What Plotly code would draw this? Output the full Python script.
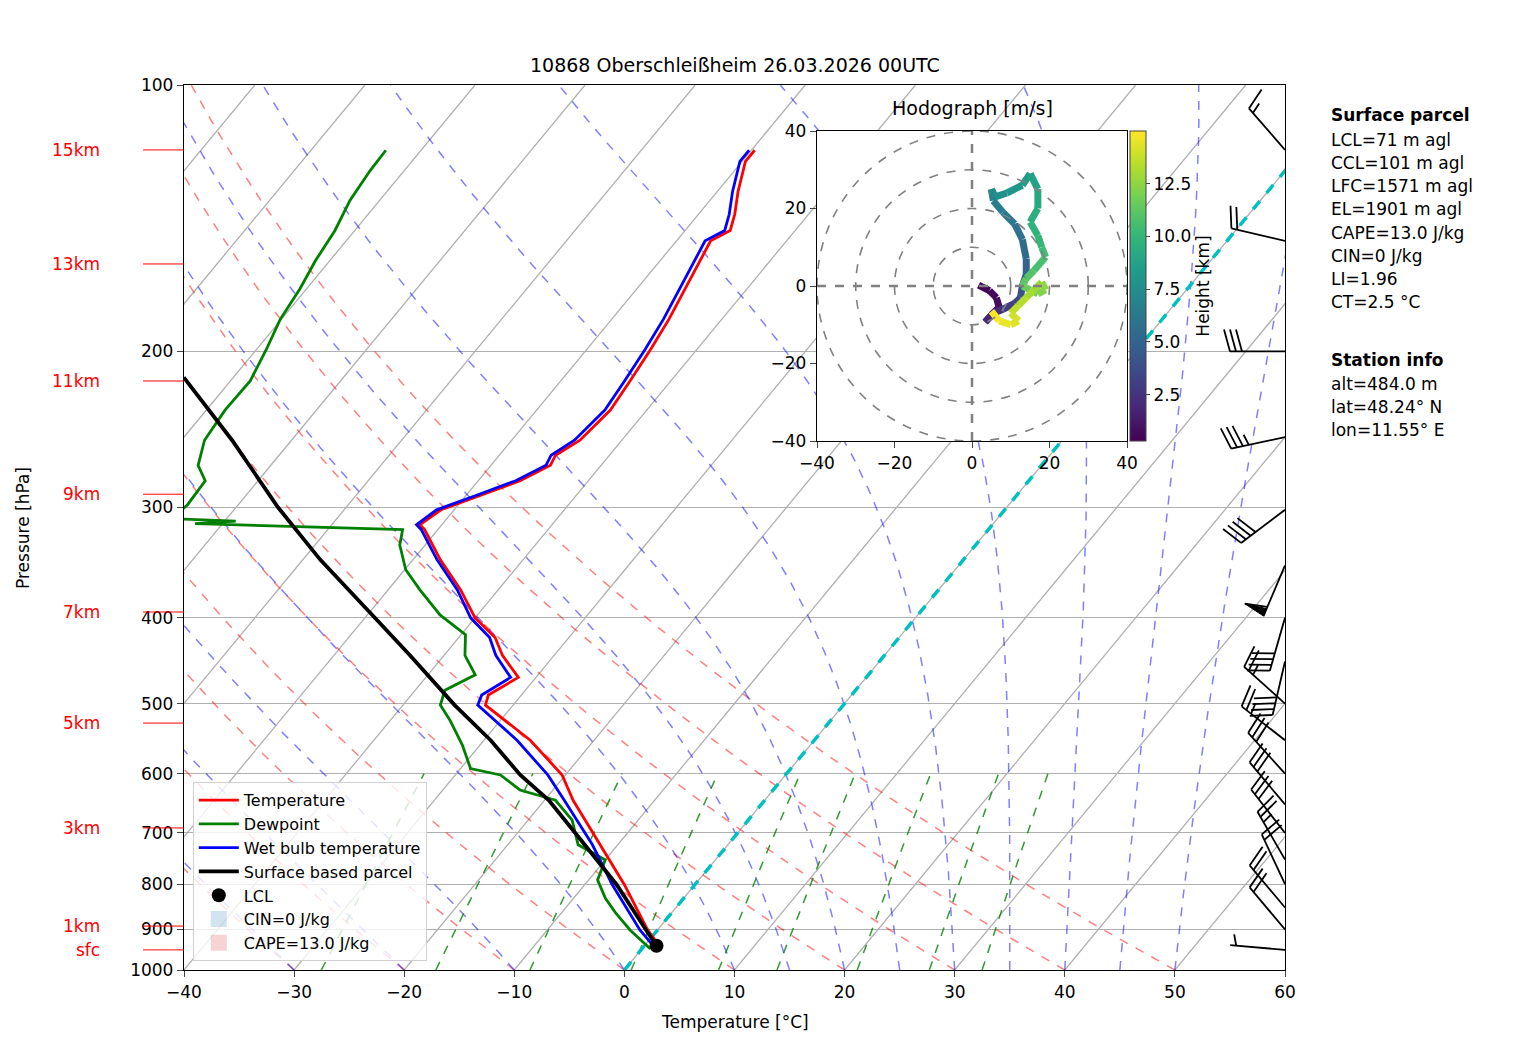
import numpy as np
import plotly.graph_objects as go
import plotly.colors as pc

# ---------------- data ----------------
P_T = [947, 901, 801, 722, 643, 602, 550, 502, 489, 467, 441, 421, 400, 372, 344, 318, 314, 302, 291, 280,
       269, 262, 252, 233, 216, 199, 184, 170, 158, 150, 146, 140, 132, 122, 118.5]
TEMP = [1.8, -0.9, -6.4, -11.6, -17.4, -20.3, -25.8, -32.5, -33.0, -31.6, -34.7, -36.7, -40.0, -43.4, -47.5,
        -51.2, -52.0, -51.2, -48.7, -46.2, -44.6, -44.9, -43.8, -43.3, -43.7, -44.2, -44.8, -45.6, -46.3, -46.9,
        -45.9, -46.7, -48.1, -49.7, -49.7]
WETB = [1.3, -1.6, -7.5, -12.3, -18.2, -21.6, -27.0, -33.2, -33.6, -32.3, -35.3, -37.2, -40.4, -43.7, -47.8,
        -51.5, -52.3, -51.6, -49.1, -46.6, -45.0, -45.3, -44.3, -43.8, -44.2, -44.7, -45.3, -46.1, -46.8, -47.4,
        -46.4, -47.2, -48.6, -50.2, -50.2]
P_D = [947, 901, 860, 830, 791, 751, 722, 677, 643, 626, 602, 592, 557, 522, 502, 483, 464, 441, 418, 397,
       372, 353, 331, 318, 313, 311, 309, 298, 280, 269, 252, 233, 216, 199, 184, 170, 158, 146, 135, 125, 118.5]
DEWP = [0.8, -2.5, -5.2, -7.1, -9.2, -10.0, -13.6, -16.0, -19.0, -23.0, -25.9, -29.1, -31.6, -34.6, -36.6,
        -37.3, -35.7, -38.1, -39.6, -43.4, -47.1, -49.9, -52.3, -53.2, -72.5, -69.0, -75.0, -74.6, -74.8, -76.6,
        -77.9, -78.3, -78.2, -79.1, -80.1, -80.6, -81.3, -81.8, -82.7, -83.1, -83.2]
P_PARCEL = [947, 939, 900, 801, 722, 643, 602, 550, 502, 441, 400, 344, 300, 252, 214]
T_PARCEL = [1.8, 1.1, -1.1, -7.1, -13.0, -19.6, -24.1, -29.4, -35.3, -43.1, -49.1, -58.4, -66.2, -75.4, -84.5]
LCL_P, LCL_T = 939, 1.1

HEIGHT_LABELS = ["15km", "13km", "11km", "9km", "7km", "5km", "3km", "1km", "sfc"]
HEIGHT_P = [118.4, 159.3, 216, 290, 394, 526, 691, 892, 949]

BARB_P = [118.4, 150, 200, 250, 302, 349, 400, 448, 500, 550, 600, 650, 700, 750, 800, 850, 900, 949]
BARB_DIR = [319, 283, 270, 258, 233, 203, 196, 193, 312, 308, 318, 320, 322, 330, 335, 320, 320, 275]
BARB_SPD = [15, 20, 30, 35, 40, 60, 40, 40, 25, 25, 30, 30, 30, 25, 20, 20, 20, 5]

HODO_U = [1.7, 4.5, 6.3, 7.0, 5.0, 3.4, 5.5, 8.0, 11.0, 12.5, 13.0, 14.0, 14.0, 13.0, 11.0, 8.0, 5.5, 5.0, 6.0,
          9.0, 13.0, 15.0, 17.0, 17.0, 15.0, 17.0, 18.0, 19.0, 16.0, 14.0, 13.0, 15.0, 17.0, 19.0, 18.0, 16.0,
          14.0, 12.0, 10.0, 12.0, 10.0, 7.0, 5.0]
HODO_V = [0.2, -1.2, -3.0, -5.5, -7.5, -9.3, -7.0, -6.0, -4.5, -3.0, 0.0, 3.0, 7.0, 12.0, 16.0, 19.0, 22.0, 25.0,
          23.0, 24.0, 26.0, 29.0, 25.0, 20.0, 16.5, 13.0, 10.0, 7.5, 4.0, 2.0, 0.0, -1.0, -2.0, -1.0, 1.0, -1.0,
          -3.0, -5.0, -7.0, -9.0, -10.0, -9.0, -6.5]
HODO_Z = [0.3, 0.5, 0.7, 0.9, 1.2, 1.6, 2.0, 2.6, 3.2, 3.8, 4.3, 4.8, 5.2, 5.6, 6.0, 6.4, 6.8, 7.1, 7.4, 7.8, 8.2,
          8.6, 9.0, 9.3, 9.6, 9.9, 10.2, 10.5, 10.8, 11.1, 11.4, 11.7, 12.0, 12.3, 12.6, 12.9, 13.2, 13.5, 13.8,
          14.1, 14.4, 14.7, 15.0]

INFO_LINES = [("<b>Surface parcel</b>", 115), ("LCL=71 m agl", 140), ("CCL=101 m agl", 163),
              ("LFC=1571 m agl", 186), ("EL=1901 m agl", 209), ("CAPE=13.0 J/kg", 233), ("CIN=0 J/kg", 256),
              ("LI=1.96", 279), ("CT=2.5 °C", 302), ("<b>Station info</b>", 360), ("alt=484.0 m", 384),
              ("lat=48.24° N", 407), ("lon=11.55° E", 430)]

# ---------------- geometry ----------------
K = 28.85
W, H = 1517, 1056
OFF = 8  # page body margin
L, R, T, B = 184, 1285, 85, 970
PW, PH = R - L, B - T


def skx(t, p):
    return np.asarray(t, float) + K * np.log(1000.0 / np.asarray(p, float))


FONT = "DejaVu Sans"
fig = go.Figure()
pp = np.linspace(1000, 100, 181)

for t0 in range(-120, 61, 10):
    fig.add_trace(go.Scatter(x=skx(np.full_like(pp, t0), pp), y=pp, mode="lines",
                             line=dict(color="#b0b0b0", width=1.3), showlegend=False, hoverinfo="skip"))
for th in range(-30, 51, 10):
    tk = (th + 273.15) * (pp / 1000.0) ** 0.2857 - 273.15
    fig.add_trace(go.Scatter(x=skx(tk, pp), y=pp, mode="lines",
                             line=dict(color="rgba(255,0,0,0.5)", width=1.5, dash="dash"),
                             showlegend=False, hoverinfo="skip"))


def moist(t0c):
    Rd, Cp, Lv, eps = 287.04, 1005.7, 2.501e6, 0.622

    def f(p, Tk):
        es = 6.112 * np.exp(17.67 * (Tk - 273.15) / (Tk - 29.65))
        rs = eps * es / (p - es)
        return (Rd * Tk + Lv * rs) / (Cp + Lv * Lv * rs * eps / (Rd * Tk * Tk)) / p

    ps = np.arange(1000, 99, -5.0)
    Ts = [t0c + 273.15]
    for i in range(len(ps) - 1):
        dp = ps[i + 1] - ps[i]
        k1 = f(ps[i], Ts[-1])
        k2 = f(ps[i] + dp, Ts[-1] + dp * k1)
        Ts.append(Ts[-1] + dp * 0.5 * (k1 + k2))
    return ps, np.array(Ts) - 273.15


for t0 in [-50, -40, -30, -20, -10, 0, 10, 15, 20, 25, 30, 35, 40, 45, 50]:
    ps, ts = moist(t0)
    fig.add_trace(go.Scatter(x=skx(ts, ps), y=ps, mode="lines",
                             line=dict(color="rgba(0,0,255,0.5)", width=1.5, dash="dash"),
                             showlegend=False, hoverinfo="skip"))
pm = np.linspace(1000, 600, 41)
for w in [0.0004, 0.001, 0.002, 0.004, 0.007, 0.01, 0.016, 0.024, 0.032]:
    e = pm * w / (0.622 + w)
    a = np.log(e / 6.112)
    td = 243.5 * a / (17.67 - a)
    fig.add_trace(go.Scatter(x=skx(td, pm), y=pm, mode="lines",
                             line=dict(color="rgba(0,128,0,0.8)", width=1.5, dash="dash"),
                             showlegend=False, hoverinfo="skip"))
fig.add_trace(go.Scatter(x=skx(np.zeros_like(pp), pp), y=pp, mode="lines",
                         line=dict(color="#00bfbf", width=3.5, dash="dash"), showlegend=False, hoverinfo="skip"))

fig.add_trace(go.Scatter(x=skx(TEMP, P_T), y=P_T, mode="lines", name="Temperature",
                         line=dict(color="red", width=2.8)))
fig.add_trace(go.Scatter(x=skx(DEWP, P_D), y=P_D, mode="lines", name="Dewpoint",
                         line=dict(color="green", width=2.8)))
fig.add_trace(go.Scatter(x=skx(WETB, P_T), y=P_T, mode="lines", name="Wet bulb temperature",
                         line=dict(color="blue", width=2.8)))
fig.add_trace(go.Scatter(x=skx(T_PARCEL, P_PARCEL), y=P_PARCEL, mode="lines", name="Surface based parcel",
                         line=dict(color="black", width=3.8)))
fig.add_trace(go.Scatter(x=skx([LCL_T], [LCL_P]), y=[LCL_P], mode="markers", name="LCL",
                         marker=dict(color="black", size=14)))
fig.add_trace(go.Scatter(x=[None], y=[None], mode="markers", name="CIN=0 J/kg",
                         marker=dict(color="rgba(31,119,180,0.2)", size=16, symbol="square")))
fig.add_trace(go.Scatter(x=[None], y=[None], mode="markers", name="CAPE=13.0 J/kg",
                         marker=dict(color="rgba(214,39,40,0.2)", size=16, symbol="square")))

# wind barbs
bx, by, flags_x, flags_y = [], [], [], []
SL, BL = 55.0, 22.0
for p, d, s in zip(BARB_P, BARB_DIR, BARB_SPD):
    y0 = PH * (3 - np.log10(p))
    x0 = PW
    rad = np.deg2rad(d)
    ux, uy = np.sin(rad), np.cos(rad)
    px_, py_ = uy, -ux
    tx, ty = x0 + ux * SL, y0 + uy * SL
    bx += [x0, tx, None]
    by += [y0, ty, None]
    s5 = int(round(s / 5.0))
    nflag, rem = divmod(s5, 10)
    nfull, nhalf = divmod(rem, 2)
    pos = 0.0
    for _ in range(nflag):
        ax_, ay_ = tx - ux * pos, ty - uy * pos
        bx_, by_ = tx - ux * (pos + 8), ty - uy * (pos + 8)
        cx_, cy_ = ax_ + px_ * BL - ux * 4, ay_ + py_ * BL - uy * 4
        flags_x += [ax_, cx_, bx_, ax_, None]
        flags_y += [ay_, cy_, by_, ay_, None]
        pos += 10
    for _ in range(nfull):
        ax_, ay_ = tx - ux * pos, ty - uy * pos
        bx += [ax_, ax_ + px_ * BL + ux * 6, None]
        by += [ay_, ay_ + py_ * BL + uy * 6, None]
        pos += 6
    for _ in range(nhalf):
        if pos == 0:
            pos = 6
        ax_, ay_ = tx - ux * pos, ty - uy * pos
        bx += [ax_, ax_ + px_ * BL / 2 + ux * 3, None]
        by += [ay_, ay_ + py_ * BL / 2 + uy * 3, None]
fig.add_trace(go.Scatter(x=bx, y=by, xaxis="x3", yaxis="y3", mode="lines",
                         line=dict(color="black", width=1.8), showlegend=False, hoverinfo="skip"))
fig.add_trace(go.Scatter(x=flags_x, y=flags_y, xaxis="x3", yaxis="y3", mode="lines", fill="toself",
                         fillcolor="black", line=dict(color="black", width=1), showlegend=False,
                         hoverinfo="skip"))

# hodograph
zmin, zmax = 0.3, 15.0
for i in range(len(HODO_U) - 1):
    z = 0.5 * (HODO_Z[i] + HODO_Z[i + 1])
    col = pc.sample_colorscale("Viridis", [(z - zmin) / (zmax - zmin)])[0]
    fig.add_trace(go.Scatter(x=HODO_U[i:i + 2], y=HODO_V[i:i + 2], xaxis="x2", yaxis="y2", mode="lines",
                             line=dict(color=col, width=7), showlegend=False, hoverinfo="skip"))
fig.add_trace(go.Scatter(x=[None], y=[None], xaxis="x2", yaxis="y2", mode="markers", showlegend=False,
                         marker=dict(color=[zmin], cmin=zmin, cmax=zmax, colorscale="Viridis", size=1,
                                     colorbar=dict(x=(1130 - L) / PW, xanchor="left", y=(B - 286) / PH,
                                                   yanchor="middle", len=310 / PH, lenmode="fraction",
                                                   thickness=16, outlinewidth=1, xpad=0, ypad=0,
                                                   tickvals=[2.5, 5, 7.5, 10, 12.5],
                                                   ticktext=["2.5", "5.0", "7.5", "10.0", "12.5"],
                                                   ticks="outside", ticklen=4,
                                                   tickfont=dict(size=17, family=FONT),
                                                   title=dict(text="Height [km]", side="right",
                                                              font=dict(size=17, family=FONT))))))

shapes = []
for r in [10, 20, 30, 40]:
    shapes.append(dict(type="circle", xref="x2", yref="y2", x0=-r, x1=r, y0=-r, y1=r,
                       line=dict(color="gray", width=1.6, dash="dash")))
shapes.append(dict(type="line", xref="x2", yref="y2", x0=-40, x1=40, y0=0, y1=0,
                   line=dict(color="gray", width=2.5, dash="dash")))
shapes.append(dict(type="line", xref="x2", yref="y2", x0=0, x1=0, y0=-40, y1=40,
                   line=dict(color="gray", width=2.5, dash="dash")))

annotations = []
for lab, p in zip(HEIGHT_LABELS, HEIGHT_P):
    yp = 3 - np.log10(p)
    shapes.append(dict(type="line", xref="paper", yref="paper", x0=(143 - L) / PW, x1=0, y0=yp, y1=yp,
                       line=dict(color="red", width=1)))
    annotations.append(dict(text=lab, xref="paper", yref="paper", x=(102 - L) / PW, y=yp, xanchor="right",
                            yanchor="middle", showarrow=False, font=dict(color="red", size=17, family=FONT)))
for txt, ypx in INFO_LINES:
    annotations.append(dict(text=txt, xref="paper", yref="paper", x=(1329 - L) / PW, y=(B - ypx) / PH,
                            xanchor="left", yanchor="middle", showarrow=False,
                            font=dict(color="black", size=17, family=FONT)))
annotations.append(dict(text="Hodograph [m/s]", xref="paper", yref="paper", x=(972 - L) / PW, y=(B - 108) / PH,
                        xanchor="center", yanchor="middle", showarrow=False, font=dict(size=19, family=FONT)))
annotations.append(dict(text="Pressure [hPa]", xref="paper", yref="paper", x=(23 - L) / PW, y=(B - 528) / PH,
                        xanchor="center", yanchor="middle", textangle=-90, showarrow=False,
                        font=dict(size=17, family=FONT)))
annotations.append(dict(text="10868 Oberschleißheim 26.03.2026 00UTC", xref="paper", yref="paper",
                        x=(735 - L) / PW, y=(B - 65) / PH, xanchor="center", yanchor="middle",
                        showarrow=False, font=dict(size=19, family=FONT)))
annotations.append(dict(text="Temperature [°C]", xref="paper", yref="paper",
                        x=(735 - L) / PW, y=(B - 1022) / PH, xanchor="center", yanchor="middle",
                        showarrow=False, font=dict(size=17, family=FONT)))

AX = dict(showgrid=False, zeroline=False, showline=True, linecolor="black", linewidth=1.3, mirror=True,
          ticks="outside", ticklen=6, tickfont=dict(size=17, family=FONT))
fig.update_layout(
    width=W, height=H, margin=dict(l=L - OFF, r=W - R + OFF, t=T - OFF, b=H - B + OFF),
    paper_bgcolor="white", plot_bgcolor="white",
    font=dict(family=FONT, size=17, color="black"),
    xaxis=dict(range=[-40, 60], tickvals=list(range(-40, 61, 10)), domain=[0, 1],
               ticktext=["−40", "−30", "−20", "−10", "0", "10", "20", "30", "40", "50", "60"], **AX),
    yaxis=dict(type="log", range=[3, 2], tickvals=list(range(100, 1001, 100)),
               ticktext=[str(v) for v in range(100, 1001, 100)], domain=[0, 1],
               **{**AX, "showgrid": True, "gridcolor": "#b0b0b0", "gridwidth": 1.3}),
    xaxis3=dict(range=[0, PW], visible=False, overlaying="x", fixedrange=True),
    yaxis3=dict(range=[0, PH], visible=False, overlaying="y", fixedrange=True),
    xaxis2=dict(domain=[(817 - L) / PW, (1127 - L) / PW], range=[-40, 40], anchor="y2",
                tickvals=[-40, -20, 0, 20, 40], ticktext=["−40", "−20", "0", "20", "40"], **AX),
    yaxis2=dict(domain=[(B - 441) / PH, (B - 131) / PH], range=[-40, 40], anchor="x2",
                tickvals=[-40, -20, 0, 20, 40], ticktext=["−40", "−20", "0", "20", "40"], **AX),
    legend=dict(x=0.008, y=0.01, xanchor="left", yanchor="bottom", bgcolor="rgba(255,255,255,0.8)",
                bordercolor="#d0d0d0", borderwidth=1, font=dict(size=16, family=FONT), tracegroupgap=0,
                itemwidth=40),
    shapes=shapes, annotations=annotations,
)
fig.write_html("out.html")
